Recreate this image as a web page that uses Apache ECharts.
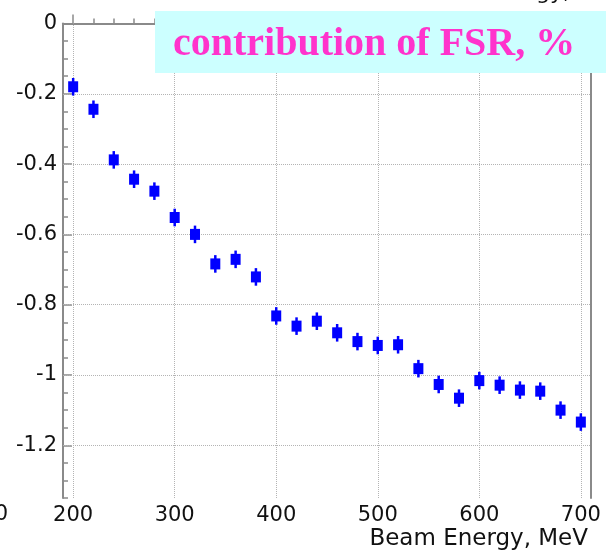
<!DOCTYPE html>
<html>
<head>
<meta charset="utf-8">
<script src="https://cdn.jsdelivr.net/npm/echarts@6/dist/echarts.min.js"></script>
<style>
  html, body { margin: 0; padding: 0; background: #fff; }
  #chart { width: 606px; height: 556px; }
</style>
</head>
<body>
<div id="chart"></div>
<script>
// Beam energy points (MeV) and FSR contribution (%) with errors
const beamEnergy = [200, 220, 240, 260, 280, 300, 320, 340, 360, 380, 400, 420, 440,
                    460, 480, 500, 520, 540, 560, 580, 600, 620, 640, 660, 680, 700];
const fsrContribution = [-0.180, -0.244, -0.388, -0.443, -0.477, -0.552, -0.600, -0.684, -0.671,
                         -0.721, -0.832, -0.861, -0.847, -0.880, -0.905, -0.916, -0.914, -0.982,
                         -1.027, -1.066, -1.016, -1.029, -1.043, -1.046, -1.100, -1.134];
const fsrError = [0.025, 0.025, 0.025, 0.025, 0.025, 0.025, 0.025, 0.025, 0.025, 0.025, 0.025, 0.025, 0.025,
                  0.025, 0.025, 0.025, 0.025, 0.025, 0.025, 0.025, 0.025, 0.025, 0.025, 0.025, 0.025, 0.025];

const xMajorTicks = [200, 300, 400, 500, 600, 700];
const xMinorTicks = [220, 240, 260, 280, 320, 340, 360, 380, 420, 440, 460, 480,
                     520, 540, 560, 580, 620, 640, 660, 680];
const yMajorTicks = [0, -0.2, -0.4, -0.6, -0.8, -1, -1.2];

const legendText = 'contribution of FSR, %';
const xTitle = 'Beam Energy, MeV';

const points = beamEnergy.map((e, i) => [e, fsrContribution[i], fsrError[i]]);

const axisGray = '#8a8a8a';
const gridGray = '#b4b4b4';
const labelFont = { fontFamily: 'DejaVu Sans', fontSize: 21, color: '#111' };

const chart = echarts.init(document.getElementById('chart'), null, { renderer: 'canvas' });

chart.setOption({
  animation: false,
  backgroundColor: '#ffffff',
  grid: { left: 63, right: 15, top: 23.5, bottom: 58 },
  xAxis: [
    {
      type: 'value', position: 'bottom', min: 190, max: 710,
      axisLine: { show: true, lineStyle: { color: axisGray, width: 2 } },
      axisTick: { show: true, inside: true, length: 9, customValues: xMajorTicks,
                  lineStyle: { color: axisGray, width: 1.5 } },
      axisLabel: { show: true, customValues: xMajorTicks, margin: 7, ...labelFont },
      splitLine: { show: false }
    },
    {
      type: 'value', position: 'bottom', min: 190, max: 710,
      axisLine: { show: false },
      axisTick: { show: true, inside: true, length: 5, customValues: xMinorTicks,
                  lineStyle: { color: axisGray, width: 1.5 } },
      axisLabel: { show: false },
      splitLine: { show: false }
    },
    {
      type: 'value', position: 'top', min: 190, max: 710,
      axisLine: { show: true, lineStyle: { color: axisGray, width: 1.5 } },
      axisTick: { show: false }, axisLabel: { show: false }, splitLine: { show: false }
    }
  ],
  yAxis: [
    {
      type: 'value', position: 'left', min: -1.35, max: 0,
      axisLine: { show: true, lineStyle: { color: axisGray, width: 2 } },
      axisTick: { show: true, inside: true, length: 9, customValues: yMajorTicks,
                  lineStyle: { color: axisGray, width: 1.5 } },
      axisLabel: { show: true, customValues: yMajorTicks, margin: 6, ...labelFont },
      splitLine: { show: false }
    },
    {
      type: 'value', position: 'left', min: -1.35, max: 0, interval: 0.05,
      axisLine: { show: false },
      axisTick: { show: true, inside: true, length: 5, lineStyle: { color: axisGray, width: 1.5 } },
      axisLabel: { show: false },
      splitLine: { show: false }
    },
    {
      type: 'value', position: 'right', min: -1.35, max: 0,
      axisLine: { show: true, lineStyle: { color: axisGray, width: 2 } },
      axisTick: { show: false }, axisLabel: { show: false }, splitLine: { show: false }
    }
  ],
  series: [
    {
      // dotted grid at the major ticks
      type: 'line', xAxisIndex: 0, yAxisIndex: 0, data: [], silent: true, z: 0,
      markLine: {
        silent: true, symbol: 'none', label: { show: false },
        lineStyle: { color: gridGray, type: 'dotted', width: 1 },
        data: [
          ...yMajorTicks.filter(v => v !== 0).map(v => ({ yAxis: v })),
          ...xMajorTicks.map(v => ({ xAxis: v }))
        ]
      }
    },
    {
      // vertical error bars
      type: 'custom', xAxisIndex: 0, yAxisIndex: 0, data: points, zlevel: 1, z: 3,
      renderItem: function (params, api) {
        const x = api.value(0), y = api.value(1), e = api.value(2);
        const top = api.coord([x, y + e]);
        const bot = api.coord([x, y - e]);
        return {
          type: 'line',
          shape: { x1: top[0], y1: top[1], x2: bot[0], y2: bot[1] },
          style: { stroke: '#0000ff', lineWidth: 2.5 }
        };
      }
    },
    {
      type: 'scatter', xAxisIndex: 0, yAxisIndex: 0, zlevel: 1, z: 4,
      data: points.map(p => [p[0], p[1]]),
      symbol: 'rect', symbolSize: [10, 11],
      itemStyle: { color: '#0000ff', opacity: 1 }
    }
  ],
  graphic: [
    {
      type: 'rect', z: 100,
      shape: { x: 155, y: 11, width: 460, height: 62 },
      style: { fill: '#ccffff' }
    },
    {
      type: 'text', z: 101, x: 173, y: 45,
      style: {
        text: legendText, fill: '#ff33cc',
        font: 'bold 40px "Liberation Serif", "Times New Roman", serif',
        align: 'left', verticalAlign: 'middle'
      }
    },
    {
      // x-axis title
      type: 'text', z: 101, x: 588, y: 539,
      style: { text: xTitle, fill: '#111', font: '23px "DejaVu Sans"',
               align: 'right', verticalAlign: 'middle' }
    },
    {
      type: 'text', z: 101, x: 570, y: 4,
      style: { text: 'Energy,', fill: '#111', font: '22px "DejaVu Sans"',
               align: 'right', verticalAlign: 'bottom' }
    },
    {
      type: 'text', z: 101, x: 8, y: 515,
      style: { text: '100', fill: '#111', font: '21px "DejaVu Sans"',
               align: 'right', verticalAlign: 'middle' }
    }
  ]
});
</script>
</body>
</html>
